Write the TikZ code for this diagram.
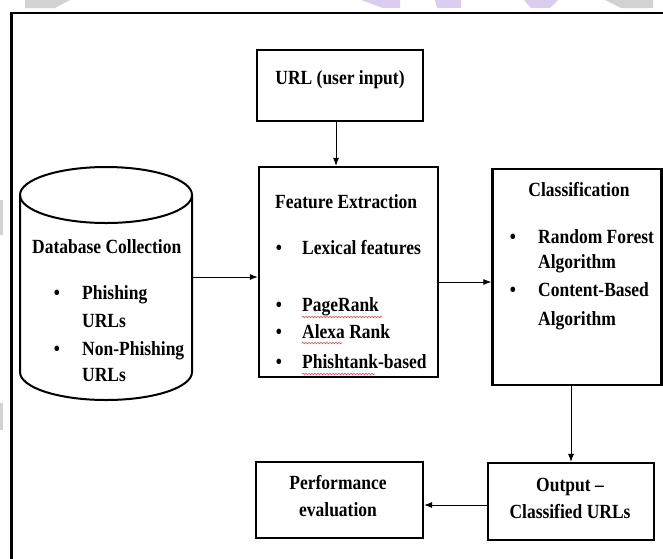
\documentclass[tikz,border=0pt]{standalone}
\usepackage{fontspec}
\setmainfont{Liberation Serif}[FakeStretch=0.87]
\usetikzlibrary{arrows.meta,decorations.pathmorphing}
\definecolor{wmgray}{HTML}{D2D2D2}
\definecolor{wmlav}{HTML}{DCCCF0}
\begin{document}
\begin{tikzpicture}[x=1pt,y=-1pt,
  box/.style={draw,line width=2.2pt,inner sep=0pt},
  txt/.style={font=\fontsize{20.1}{24}\selectfont\bfseries,inner sep=0pt},
  arr/.style={line width=0.9pt,-{Latex[length=8pt,width=6pt]}},
  squig/.style={red!75,line width=0.6pt,decorate,decoration={snake,amplitude=0.7pt,segment length=3pt}}]
\useasboundingbox (0,0) rectangle (663,558);
% watermark fragments
\fill[wmgray] (25,0) -- (70,0) -- (55,8) -- (25,8) -- cycle;
\fill[wmlav] (361,0) -- (400,0) -- (400,8) -- (383,8) -- cycle;
\fill[wmlav] (435,0) -- (461,0) -- (461,8) -- (437,8) -- cycle;
\fill[wmlav] (524,0) -- (558,0) -- (550,8) -- (531,8) -- cycle;
\fill[wmgray] (605,0) -- (653,0) -- (653,8) -- (621,8) -- cycle;
\fill[wmgray] (0,200) rectangle (3,235);
\fill[wmgray] (0,403) rectangle (3,430);
% frame
\draw[line width=2.2pt] (11.5,13) rectangle (700,600);
% boxes
\node[box,minimum width=166,minimum height=71] (url) at (340,85.5) {};
\node[box,minimum width=179,minimum height=210] (fe) at (348.5,272) {};
\node[box,minimum width=169,minimum height=216] (cl) at (577,277) {};
\node[box,minimum width=166,minimum height=77] (out) at (571,501.5) {};
\node[box,minimum width=167,minimum height=76] (perf) at (339.5,500) {};
% cylinder
\draw[line width=2pt] (20,195) -- (20,372)
  .. controls (20,387.5) and (58.5,400) .. (106,400)
  .. controls (153.5,400) and (192,387.5) .. (192,372) -- (192,195);
\draw[line width=2pt] (106,195) ellipse [x radius=86,y radius=28];
\node[minimum width=172,minimum height=160,inner sep=0pt] (db) at (106,277) {};
% texts
\node[txt,anchor=base] (urlt) at (340,84) {URL (user input)};
\node[txt,anchor=base west] (fet) at (275,208) {Feature Extraction};
\node[txt,anchor=base] (feb1) at (279,254) {•};
\node[txt,anchor=base west] (fe1) at (302,254) {Lexical features};
\node[txt,anchor=base] (feb2) at (279,311) {•};
\node[txt,anchor=base west] (fe2) at (302,311) {PageRank};
\node[txt,anchor=base] (feb3) at (279,338) {•};
\node[txt,anchor=base west] (fe3) at (302,338) {Alexa Rank};
\node[txt,anchor=base] (feb4) at (279,368) {•};
\node[txt,anchor=base west] (fe4) at (302,368) {Phishtank-based};
\draw[squig] (302,317) -- (382,317);
\draw[squig] (302,343) -- (342,343);
\draw[squig] (302,374) -- (375,374);
\node[txt,anchor=base] (clt) at (579,196) {Classification};
\node[txt,anchor=base] (clb1) at (513,243) {•};
\node[txt,anchor=base west] (cl1) at (538,243) {Random Forest};
\node[txt,anchor=base west] (cl2) at (538,268) {Algorithm};
\node[txt,anchor=base] (clb2) at (513,296) {•};
\node[txt,anchor=base west] (cl3) at (538,296) {Content-Based};
\node[txt,anchor=base west] (cl4) at (538,325) {Algorithm};
\node[txt,anchor=base west] (dbt) at (32,253) {Database Collection};
\node[txt,anchor=base] (dbb1) at (57,299) {•};
\node[txt,anchor=base west] (db1) at (82,299) {Phishing};
\node[txt,anchor=base west] (db2) at (82,327) {URLs};
\node[txt,anchor=base] (dbb2) at (57,355) {•};
\node[txt,anchor=base west] (db3) at (82,355) {Non-Phishing};
\node[txt,anchor=base west] (db4) at (82,381) {URLs};
\node[txt,anchor=base] (out1) at (570,491) {Output –};
\node[txt,anchor=base] (out2) at (570,518) {Classified URLs};
\node[txt,anchor=base] (perf1) at (338,489) {Performance};
\node[txt,anchor=base] (perf2) at (338,516) {evaluation};
% connectors
\draw[arr] ([xshift=-4pt]url.south) -- ([xshift=-4pt]url.south |- fe.north);
\draw[arr] (db.east) -- (db.east -| fe.west);
\draw[arr] ([yshift=-10pt]fe.east) -- ([yshift=-10pt]fe.east -| cl.west);
\draw[arr] (out.north |- cl.south) -- (out.north);
\draw[arr] ([yshift=-3.5pt]out.west) -- ([yshift=-3.5pt]out.west -| perf.east);
\end{tikzpicture}
\end{document}
